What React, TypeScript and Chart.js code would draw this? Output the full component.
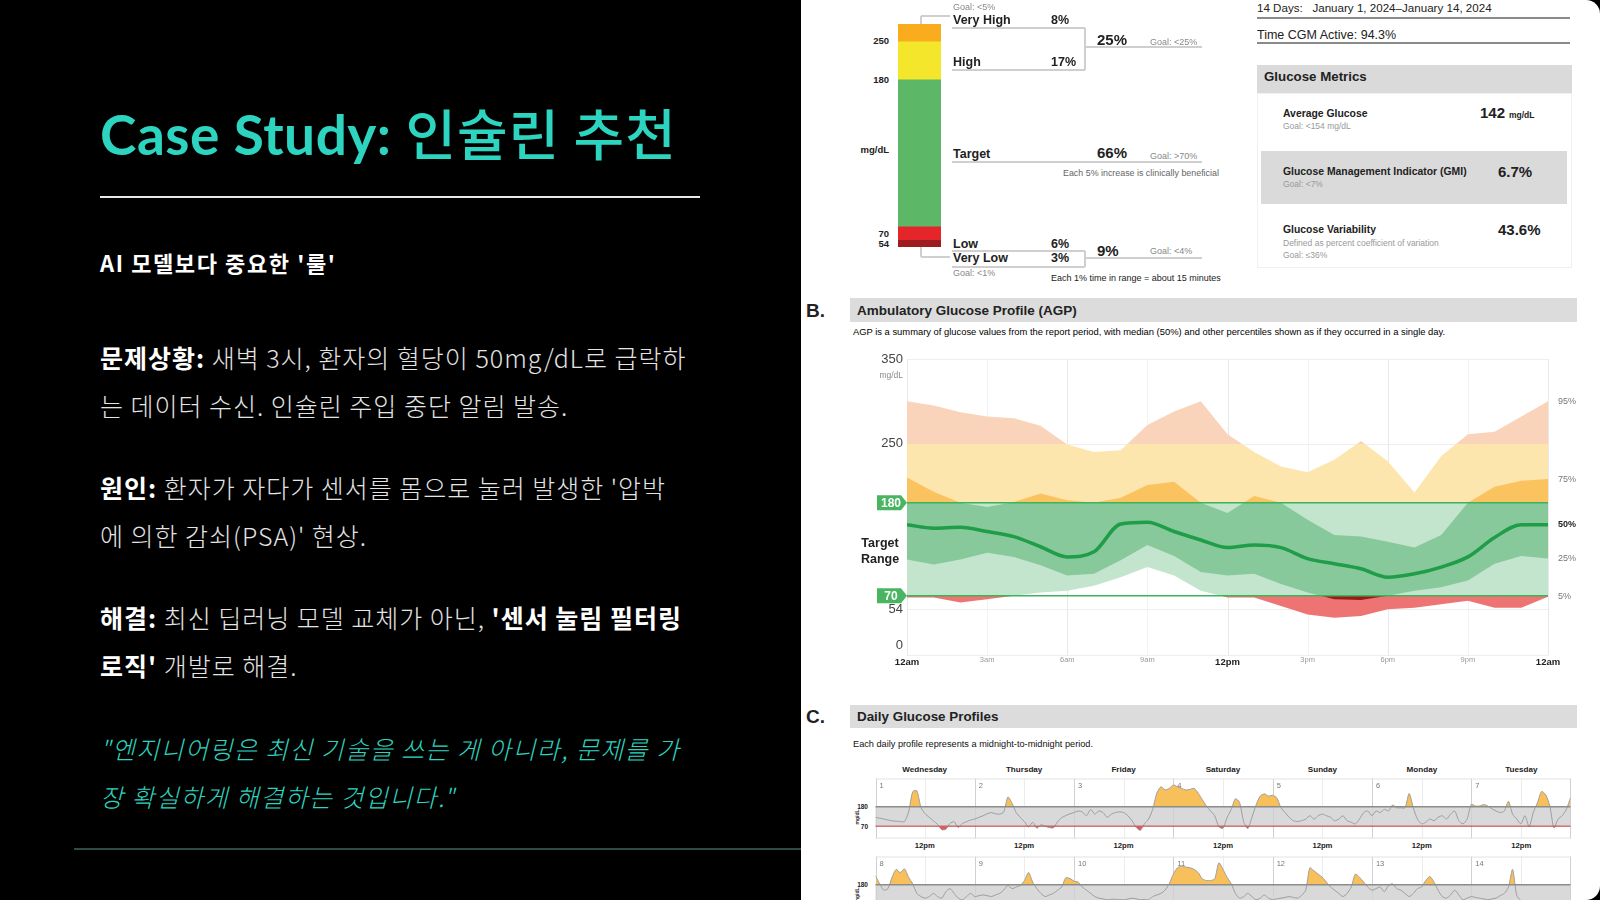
import React, { useEffect, useRef } from "react";
import { Chart, registerables } from "chart.js";
Chart.register(...registerables);

const RF = "'Liberation Sans', Arial, Helvetica, sans-serif";
const KF = "'Noto Sans CJK KR', 'Noto Sans', sans-serif";
const TF = "'Lato', 'Noto Sans CJK KR', sans-serif";

// ---------- Section A: time in ranges ----------
const tirLabels = ["Very Low", "Low", "Target", "High", "Very High"];
const tirValues = [3, 6, 66, 17, 8];
const tirColors = ["#9d1c20", "#e4252a", "#5cb866", "#f4e62b", "#f8ac1e"];

// ---------- Section B: AGP (hourly percentiles, mg/dL) ----------
const agpHours = [0, 1, 2, 3, 4, 5, 6, 7, 8, 9, 10, 11, 12, 13, 14, 15, 16, 17, 18, 19, 20, 21, 22, 23, 24];
const agpP5 = [68, 68, 62, 66, 70, 74, 76, 82, 92, 104, 94, 76, 68, 68, 58, 48, 44, 46, 54, 56, 60, 64, 56, 56, 69];
const agpP25 = [113, 107, 113, 121, 116, 106, 94, 96, 112, 130, 117, 98, 94, 96, 84, 74, 66, 65, 70, 76, 80, 88, 108, 117, 114];
const agpP50 = [154, 150, 151, 146, 140, 128, 116, 122, 155, 157, 146, 136, 127, 130, 127, 114, 108, 102, 92, 96, 104, 116, 139, 154, 154];
const agpP75 = [210, 193, 180, 175, 181, 191, 183, 180, 186, 201, 205, 180, 168, 188, 180, 160, 142, 140, 134, 127, 142, 180, 199, 206, 208];
const agpP95 = [300, 295, 287, 282, 280, 271, 249, 240, 242, 272, 288, 300, 261, 240, 223, 216, 231, 253, 229, 192, 235, 261, 264, 282, 300];
const agpXTickHours = [0, 3, 6, 9, 12, 15, 18, 21, 24];
const agpXTickLabels = ["12am", "3am", "6am", "9am", "12pm", "3pm", "6pm", "9pm", "12am"];
const agpYTicks = [350, 250, 54, 0];
const agpTargets = [180, 70];
const agpPctLabels = ["5%", "25%", "50%", "75%", "95%"];

// ---------- Section C: daily profiles (hourly mg/dL) ----------
const dayNames = ["Wednesday", "Thursday", "Friday", "Saturday", "Sunday", "Monday", "Tuesday"];
const day1 = [120, 115, 110, 105, 100, 98, 96, 96, 150, 265, 270, 175, 140, 120, 100, 80, 50, 52, 85, 95, 62, 85, 95, 105];
const day2 = [110, 120, 129, 140, 147, 140, 138, 150, 235, 200, 147, 120, 95, 66, 92, 58, 78, 70, 62, 60, 95, 118, 130, 140];
const day3 = [147, 156, 150, 129, 165, 138, 156, 147, 120, 138, 147, 151, 147, 129, 101, 64, 46, 83, 110, 165, 257, 293, 275, 284];
const day4 = [303, 293, 284, 275, 278, 284, 257, 220, 184, 156, 129, 66, 58, 120, 165, 225, 205, 95, 56, 120, 190, 240, 253, 240];
const day5 = [245, 230, 175, 147, 120, 101, 96, 101, 110, 129, 110, 129, 138, 129, 120, 101, 110, 129, 101, 92, 83, 110, 147, 156];
const day6 = [129, 156, 147, 165, 156, 190, 174, 174, 174, 255, 174, 110, 83, 92, 110, 101, 120, 129, 110, 138, 156, 101, 83, 110];
const day7 = [193, 184, 184, 193, 184, 169, 156, 147, 156, 211, 138, 110, 83, 129, 66, 147, 202, 266, 248, 184, 60, 110, 129, 165];
const day8 = [231, 185, 149, 158, 222, 267, 249, 270, 222, 185, 131, 113, 104, 113, 131, 113, 104, 140, 158, 131, 104, 95, 113, 131];
const day9 = [113, 118, 122, 118, 113, 122, 131, 150, 176, 158, 167, 176, 204, 249, 195, 158, 131, 113, 122, 131, 149, 167, 220, 215];
const day10 = [200, 195, 167, 149, 131, 113, 104, 100, 95, 97, 98, 96, 95, 99, 104, 100, 95, 97, 95, 113, 122, 131, 150, 185];
const day11 = [240, 276, 285, 280, 276, 267, 249, 213, 204, 204, 213, 304, 267, 222, 185, 131, 104, 113, 131, 113, 95, 104, 122, 104];
const day12 = [95, 100, 104, 108, 113, 108, 104, 120, 149, 276, 258, 240, 222, 195, 167, 149, 131, 113, 131, 167, 240, 222, 195, 167];
const day13 = [149, 158, 167, 140, 176, 185, 158, 149, 131, 113, 131, 158, 167, 204, 226, 195, 149, 113, 104, 122, 149, 122, 95, 104];
const day14 = [113, 108, 104, 100, 95, 100, 104, 118, 131, 167, 267, 120, 90, null, null, null, null, null, null, null, null, null, null, null];
const dailyRow1 = [day1, day2, day3, day4, day5, day6, day7];
const dailyRow2 = [day8, day9, day10, day11, day12, day13, day14];

// ---------- helpers ----------
const T = ({ x, y, s, w = 400, c = "#222", a = "l", f = RF, i = false, ls = 0, children }: any) => (
  <div
    style={{
      position: "absolute", left: x, top: y,
      transform: `translate(${a === "l" ? "0" : a === "r" ? "-100%" : "-50%"}, -50%)`,
      fontSize: s, fontWeight: w, color: c, fontFamily: f, fontStyle: i ? "italic" : "normal",
      whiteSpace: "nowrap", lineHeight: 1, letterSpacing: ls,
    }}
  >
    {children}
  </div>
);
const Box = ({ x, y, w, h, bg = "transparent", bd }: any) => (
  <div style={{ position: "absolute", left: x, top: y, width: w, height: h, background: bg, border: bd, boxSizing: "border-box" }} />
);
const HL = ({ x1, x2, y, c = "#cfcfcf", t = 1.5 }: any) => (
  <div style={{ position: "absolute", left: x1, top: y - t / 2, width: x2 - x1, height: t, background: c }} />
);
const VL = ({ x, y1, y2, c = "#cfcfcf", t = 1.5 }: any) => (
  <div style={{ position: "absolute", left: x - t / 2, top: y1, width: t, height: y2 - y1, background: c }} />
);

function ChartBox({ make, x, y, w, h }: any) {
  const ref = useRef<HTMLCanvasElement | null>(null);
  useEffect(() => {
    const chart = new Chart(ref.current as any, make());
    chart.update();
    return () => chart.destroy();
  }, []);
  return <canvas ref={ref} width={w} height={h} style={{ position: "absolute", left: x, top: y, width: w, height: h }} />;
}

const baseOpts = {
  responsive: false,
  animation: false,
  events: [],
  plugins: { legend: { display: false }, tooltip: { enabled: false } },
};

// ---------- TIR bar ----------
function tirConfig(): any {
  return {
    type: "bar",
    data: {
      labels: [""],
      datasets: tirLabels.map((l, i) => ({
        label: l, data: [tirValues[i]], backgroundColor: tirColors[i],
        borderWidth: 0, barPercentage: 1, categoryPercentage: 1,
      })),
    },
    options: {
      ...baseOpts,
      layout: { padding: 0 },
      scales: { x: { stacked: true, display: false }, y: { stacked: true, display: false, min: 0, max: 100 } },
    },
  };
}

// ---------- AGP ----------
const OUTER = [
  { lo: 250, hi: 350, c: "#f9d4ba" },
  { lo: 180, hi: 250, c: "#fde5ae" },
  { lo: 70, hi: 180, c: "#c3e5cd" },
  { lo: 0, hi: 70, c: "#ee7474" },
];
const INNER = [
  { lo: 250, hi: 350, c: "#f8b98c" },
  { lo: 180, hi: 250, c: "#fbc360" },
  { lo: 70, hi: 180, c: "#87c99b" },
  { lo: 0, hi: 70, c: "#9a1a1a" },
];
function zoneGradient(chart: any, zones: any[]) {
  const { ctx, chartArea, scales } = chart;
  if (!chartArea || !scales || !scales.y) return "rgba(0,0,0,0)";
  const top = chartArea.top, bottom = chartArea.bottom, H = bottom - top;
  const g = ctx.createLinearGradient(0, top, 0, bottom);
  const cl = (t: number) => Math.max(0, Math.min(1, t));
  zones.forEach((z) => {
    g.addColorStop(cl((scales.y.getPixelForValue(z.hi) - top) / H), z.c);
    g.addColorStop(cl((scales.y.getPixelForValue(z.lo) - top) / H), z.c);
  });
  return g;
}
const agpPlugin = {
  id: "agpDecor",
  beforeDatasetsDraw(chart: any) {
    const { ctx, chartArea: a, scales } = chart;
    const { x, y } = scales;
    ctx.save();
    ctx.lineWidth = 1;
    agpXTickHours.forEach((h) => {
      const px = Math.round(x.getPixelForValue(h)) + 0.5;
      ctx.strokeStyle = h % 6 === 0 ? "#e8e8e8" : "#f3f3f3";
      ctx.beginPath(); ctx.moveTo(px, a.top); ctx.lineTo(px, a.bottom); ctx.stroke();
    });
    agpYTicks.forEach((v) => {
      const py = Math.round(y.getPixelForValue(v)) + 0.5;
      ctx.strokeStyle = "#eeeeee";
      ctx.beginPath(); ctx.moveTo(a.left, py); ctx.lineTo(a.right, py); ctx.stroke();
    });
    ctx.restore();
  },
  afterDatasetsDraw(chart: any) {
    const { ctx, chartArea: a, scales } = chart;
    const { x, y } = scales;
    ctx.save();
    // target lines + badges
    agpTargets.forEach((v) => {
      const py = y.getPixelForValue(v);
      ctx.strokeStyle = "#3db35b";
      ctx.lineWidth = 1.6;
      ctx.beginPath(); ctx.moveTo(a.left, py); ctx.lineTo(a.right, py); ctx.stroke();
      ctx.fillStyle = "#49b560";
      ctx.beginPath();
      ctx.moveTo(a.left - 30, py - 7.5);
      ctx.lineTo(a.left - 6, py - 7.5);
      ctx.lineTo(a.left, py);
      ctx.lineTo(a.left - 6, py + 7.5);
      ctx.lineTo(a.left - 30, py + 7.5);
      ctx.closePath(); ctx.fill();
      ctx.fillStyle = "#ffffff";
      ctx.font = `bold 12px ${RF}`;
      ctx.textAlign = "center"; ctx.textBaseline = "middle";
      ctx.fillText(String(v), a.left - 16, py + 0.5);
    });
    // y tick labels (the zero label sits just above its gridline)
    ctx.fillStyle = "#444";
    ctx.font = `13px ${RF}`;
    ctx.textAlign = "right";
    agpYTicks.forEach((v) => {
      const py = y.getPixelForValue(v);
      if (v === 0) { ctx.textBaseline = "bottom"; ctx.fillText(String(v), a.left - 4, py - 3); }
      else { ctx.textBaseline = "middle"; ctx.fillText(String(v), a.left - 4, py); }
    });
    ctx.textBaseline = "middle";
    ctx.fillStyle = "#8a8a8a";
    ctx.font = `8.5px ${RF}`;
    ctx.fillText("mg/dL", a.left - 4, y.getPixelForValue(350) + 17);
    // Target Range
    const mid = y.getPixelForValue((agpTargets[0] + agpTargets[1]) / 2);
    ctx.fillStyle = "#222";
    ctx.font = `bold 12.5px ${RF}`;
    ctx.textAlign = "center";
    ctx.fillText("Target", a.left - 27, mid - 6);
    ctx.fillText("Range", a.left - 27, mid + 10);
    // x tick labels
    agpXTickHours.forEach((h, i) => {
      const bold = h % 12 === 0;
      ctx.fillStyle = bold ? "#222" : "#9a9a9a";
      ctx.font = bold ? `bold 9.5px ${RF}` : `7.5px ${RF}`;
      ctx.textAlign = "center"; ctx.textBaseline = "middle";
      ctx.fillText(agpXTickLabels[i], x.getPixelForValue(h), a.bottom + (bold ? 7 : 5));
    });
    // percentile labels at right
    const series = [agpP5, agpP25, agpP50, agpP75, agpP95];
    series.forEach((s, i) => {
      const bold = agpPctLabels[i] === "50%";
      ctx.fillStyle = bold ? "#222" : "#777";
      ctx.font = bold ? `bold 9px ${RF}` : `9px ${RF}`;
      ctx.textAlign = "left";
      ctx.fillText(agpPctLabels[i], a.right + 10, y.getPixelForValue(s[s.length - 1]));
    });
    ctx.restore();
  },
};
function agpConfig(): any {
  const mk = (arr: number[]) => arr.map((v, i) => ({ x: agpHours[i], y: v }));
  const clear = "rgba(0,0,0,0)";
  return {
    type: "line",
    data: {
      datasets: [
        { label: "5%", data: mk(agpP5), borderColor: clear, borderWidth: 1, pointRadius: 0, fill: false, order: 4 },
        { label: "95%", data: mk(agpP95), borderColor: clear, borderWidth: 1, pointRadius: 0, fill: "-1", order: 3,
          backgroundColor: (c: any) => zoneGradient(c.chart, OUTER) },
        { label: "25%", data: mk(agpP25), borderColor: clear, borderWidth: 1, pointRadius: 0, fill: false, order: 2 },
        { label: "75%", data: mk(agpP75), borderColor: clear, borderWidth: 1, pointRadius: 0, fill: "-1", order: 1,
          backgroundColor: (c: any) => zoneGradient(c.chart, INNER) },
        { label: "50%", data: mk(agpP50), borderColor: "#1f9d48", borderWidth: 3.5, pointRadius: 0, fill: false,
          cubicInterpolationMode: "monotone", order: 0 },
      ],
    },
    options: {
      ...baseOpts,
      layout: { padding: { left: 107, right: 52, top: 19, bottom: 25 } },
      scales: {
        x: { type: "linear", min: 0, max: 24, display: false },
        y: { min: 0, max: 350, display: false },
      },
    },
    plugins: [agpPlugin],
  };
}

// ---------- Daily profiles ----------
function dailyPlugin(firstDay: number) {
  return {
    id: "dailyDecor",
    beforeDatasetsDraw(chart: any) {
      const { ctx, chartArea: a, scales } = chart;
      const { x, y } = scales;
      ctx.save();
      ctx.lineWidth = 1;
      for (let d = 0; d < 7; d++) {
        const px = Math.round(x.getPixelForValue(d * 24 + 12)) + 0.5;
        ctx.strokeStyle = "#ececec";
        ctx.beginPath(); ctx.moveTo(px, a.top); ctx.lineTo(px, a.bottom); ctx.stroke();
      }
      const y180 = y.getPixelForValue(180), y70 = y.getPixelForValue(70);
      ctx.fillStyle = "#d9d9d9";
      ctx.fillRect(a.left, y180, a.right - a.left, y70 - y180);
      for (let d = 0; d <= 7; d++) {
        let px = Math.round(x.getPixelForValue(d * 24)) + 0.5;
        if (d === 7) px -= 1;
        ctx.strokeStyle = "#d0d0d0";
        ctx.beginPath(); ctx.moveTo(px, a.top); ctx.lineTo(px, a.bottom); ctx.stroke();
      }
      ctx.strokeStyle = "#e2e2e2";
      ctx.beginPath(); ctx.moveTo(a.left, a.top + 0.5); ctx.lineTo(a.right, a.top + 0.5); ctx.stroke();
      ctx.beginPath(); ctx.moveTo(a.left, a.bottom - 0.5); ctx.lineTo(a.right, a.bottom - 0.5); ctx.stroke();
      ctx.restore();
    },
    afterDatasetsDraw(chart: any) {
      const { ctx, chartArea: a, scales } = chart;
      const { x, y } = scales;
      ctx.save();
      ctx.strokeStyle = "#8c8c8c"; ctx.lineWidth = 1.5;
      const y180 = y.getPixelForValue(180);
      ctx.beginPath(); ctx.moveTo(a.left, y180); ctx.lineTo(a.right, y180); ctx.stroke();
      ctx.strokeStyle = "#b8434a"; ctx.lineWidth = 1;
      const y70 = y.getPixelForValue(70);
      ctx.beginPath(); ctx.moveTo(a.left, y70); ctx.lineTo(a.right, y70); ctx.stroke();
      ctx.fillStyle = "#777";
      ctx.font = `7.5px ${RF}`;
      ctx.textAlign = "left"; ctx.textBaseline = "middle";
      for (let d = 0; d < 7; d++) ctx.fillText(String(firstDay + d), x.getPixelForValue(d * 24) + 4, a.top + 7);
      ctx.restore();
    },
  };
}
function dailyConfig(days: (number | null)[][], nextVal: number | null | undefined, firstDay: number): any {
  const pts: any[] = [];
  days.forEach((d, di) => d.forEach((v, h) => pts.push({ x: di * 24 + h, y: v })));
  if (nextVal !== undefined) pts.push({ x: 168, y: nextVal });
  const clear = "rgba(0,0,0,0)";
  return {
    type: "line",
    data: {
      datasets: [
        { data: pts, borderColor: "#9e9e9e", borderWidth: 1, pointRadius: 0, tension: 0.25,
          fill: { target: { value: 180 }, above: "#f8c05a", below: clear } },
        { data: pts, borderColor: clear, borderWidth: 1, pointRadius: 0, tension: 0.25,
          fill: { target: { value: 70 }, above: clear, below: "#e8535c" } },
      ],
    },
    options: {
      ...baseOpts,
      layout: { padding: 0 },
      scales: {
        x: { type: "linear", min: 0, max: 168, display: false },
        y: { min: 0, max: 340, display: false },
      },
    },
    plugins: [dailyPlugin(firstDay)],
  };
}

// ---------- App ----------
export default function App() {
  const colLeft = 875, colW = 696 / 7;
  const teal = "#2dd4bf";
  const body = "#e4e4e4";
  const para: any = { position: "absolute", left: 100, fontFamily: KF, fontSize: 25, lineHeight: "48px", color: body, whiteSpace: "nowrap", fontWeight: 300, letterSpacing: 1.0 };
  const strong: any = { color: "#fff", fontWeight: 700 };
  return (
    <div style={{ position: "fixed", left: 0, top: 0, width: 1600, height: 900, overflow: "hidden", background: "#000" }}>
      {/* ---------- left panel ---------- */}
      <div style={{ position: "absolute", left: 100, top: 134, transform: "translateY(-50%)", fontSize: 55, lineHeight: 1, color: teal, whiteSpace: "nowrap" }}>
        <span style={{ fontFamily: TF, fontWeight: 700, letterSpacing: 0.5 }}>Case Study: </span>
        <span style={{ fontFamily: KF, fontWeight: 500, letterSpacing: 1.0 }}>인슐린 추천</span>
      </div>
      <HL x1={100} x2={700} y={197} c="#e8e8e8" t={1.5} />
      <T x={100} y={262} s={22} w={700} c="#ffffff" f={KF} ls={1.6}>AI 모델보다 중요한 '룰'</T>
      <div style={{ ...para, top: 333 }}>
        <b style={strong}>문제상황:</b> 새벽 3시, 환자의 혈당이 50mg/dL로 급락하<br />
        는 데이터 수신. 인슐린 주입 중단 알림 발송.
      </div>
      <div style={{ ...para, top: 463 }}>
        <b style={strong}>원인:</b> 환자가 자다가 센서를 몸으로 눌러 발생한 '압박<br />
        에 의한 감쇠(PSA)' 현상.
      </div>
      <div style={{ ...para, top: 593 }}>
        <b style={strong}>해결:</b> 최신 딥러닝 모델 교체가 아닌, <b style={strong}>'센서 눌림 필터링</b><br />
        <b style={strong}>로직'</b> 개발로 해결.
      </div>
      <div style={{ ...para, top: 724, color: teal, fontStyle: "italic", letterSpacing: 1.4 }}>
        "엔지니어링은 최신 기술을 쓰는 게 아니라, 문제를 가<br />
        장 확실하게 해결하는 것입니다."
      </div>
      <HL x1={74} x2={801} y={849} c="#2b4d47" t={2} />

      {/* ---------- right panel ---------- */}
      <div style={{ position: "absolute", left: 801, top: 0, width: 799, height: 900, background: "#fff", borderRadius: "0 14px 14px 0" }} />

      {/* Section A */}
      <ChartBox make={tirConfig} x={898} y={24} w={43} h={223} />
      <T x={889} y={41} s={9.5} w={700} c="#222" a="r">250</T>
      <T x={889} y={80} s={9.5} w={700} c="#222" a="r">180</T>
      <T x={889} y={150} s={9.5} w={700} c="#222" a="r">mg/dL</T>
      <T x={889} y={234} s={9.5} w={700} c="#222" a="r">70</T>
      <T x={889} y={244} s={9.5} w={700} c="#222" a="r">54</T>
      <VL x={921} y1={16} y2={24} /> <HL x1={921} x2={950} y={16} />
      <HL x1={952} x2={1085} y={28} /> <VL x={1085} y1={28} y2={70} /> <HL x1={952} x2={1085} y={70} />
      <HL x1={1085} x2={1202} y={47} />
      <HL x1={952} x2={1202} y={162} />
      <VL x={921} y1={247} y2={257} /> <HL x1={921} x2={950} y={257} />
      <HL x1={952} x2={1085} y={251} /> <VL x={1085} y1={251} y2={267} /> <HL x1={952} x2={1085} y={267} />
      <HL x1={1085} x2={1202} y={258} />
      <T x={953} y={7} s={9} c="#888">Goal: &lt;5%</T>
      <T x={953} y={20} s={12.5} w={700} c="#222">Very High</T>
      <T x={1051} y={20} s={12.5} w={700} c="#222">8%</T>
      <T x={953} y={62} s={12.5} w={700} c="#222">High</T>
      <T x={1051} y={62} s={12.5} w={700} c="#222">17%</T>
      <T x={1097} y={39} s={15} w={700} c="#222">25%</T>
      <T x={1150} y={42} s={9} c="#888">Goal: &lt;25%</T>
      <T x={953} y={154} s={12.5} w={700} c="#222">Target</T>
      <T x={1097} y={152} s={15} w={700} c="#222">66%</T>
      <T x={1150} y={156} s={9} c="#888">Goal: &gt;70%</T>
      <T x={1063} y={173} s={8.9} c="#666">Each 5% increase is clinically beneficial</T>
      <T x={953} y={244} s={12.5} w={700} c="#222">Low</T>
      <T x={1051} y={244} s={12.5} w={700} c="#222">6%</T>
      <T x={953} y={258} s={12.5} w={700} c="#222">Very Low</T>
      <T x={1051} y={258} s={12.5} w={700} c="#222">3%</T>
      <T x={1097} y={250} s={15} w={700} c="#222">9%</T>
      <T x={1150} y={251} s={9} c="#888">Goal: &lt;4%</T>
      <T x={953} y={273} s={9} c="#888">Goal: &lt;1%</T>
      <T x={1051} y={278} s={9} c="#222">Each 1% time in range = about 15 minutes</T>

      {/* Metrics */}
      <T x={1257} y={8} s={11.6} c="#222">14 Days:&nbsp;&nbsp; January 1, 2024–January 14, 2024</T>
      <HL x1={1257} x2={1570} y={18} c="#8a8a8a" t={2} />
      <T x={1257} y={35} s={12.5} c="#222">Time CGM Active: 94.3%</T>
      <HL x1={1257} x2={1570} y={43} c="#8a8a8a" t={2} />
      <Box x={1257} y={65} w={315} h={28} bg="#dadada" />
      <T x={1264} y={77} s={13.3} w={700} c="#222">Glucose Metrics</T>
      <Box x={1257} y={93} w={315} h={175} bd="1px solid #f0f0f0" />
      <T x={1283} y={114} s={10.4} w={700} c="#222">Average Glucose</T>
      <T x={1283} y={126} s={8.5} c="#999">Goal: &lt;154 mg/dL</T>
      <T x={1480} y={112} s={15} w={700} c="#222">142</T>
      <T x={1509} y={115} s={8.5} w={700} c="#222">mg/dL</T>
      <Box x={1261} y={151} w={306} h={53} bg="#dadada" />
      <T x={1283} y={172} s={10.4} w={700} c="#222">Glucose Management Indicator (GMI)</T>
      <T x={1283} y={184} s={8.5} c="#999">Goal: &lt;7%</T>
      <T x={1498} y={171} s={15} w={700} c="#222">6.7%</T>
      <T x={1283} y={230} s={10.4} w={700} c="#222">Glucose Variability</T>
      <T x={1283} y={243} s={8.5} c="#999">Defined as percent coefficient of variation</T>
      <T x={1283} y={255} s={8.5} c="#999">Goal: ≤36%</T>
      <T x={1498} y={229} s={15} w={700} c="#222">43.6%</T>

      {/* Section B */}
      <T x={806} y={310} s={19} w={700} c="#222">B.</T>
      <Box x={850} y={298} w={727} h={24} bg="#dcdcdc" />
      <T x={857} y={311} s={13.5} w={700} c="#222">Ambulatory Glucose Profile (AGP)</T>
      <T x={853} y={332} s={9.4} c="#000">AGP is a summary of glucose values from the report period, with median (50%) and other percentiles shown as if they occurred in a single day.</T>
      <ChartBox make={agpConfig} x={800} y={340} w={800} h={340} />

      {/* Section C */}
      <T x={806} y={716} s={19} w={700} c="#222">C.</T>
      <Box x={850} y={705} w={727} h={23} bg="#dcdcdc" />
      <T x={857} y={717} s={13.4} w={700} c="#222">Daily Glucose Profiles</T>
      <T x={853} y={745} s={9.2} c="#111">Each daily profile represents a midnight-to-midnight period.</T>
      {dayNames.map((d, i) => (
        <T key={d} x={colLeft + (i + 0.5) * colW} y={770} s={8.1} w={700} c="#222" a="c">{d}</T>
      ))}
      <ChartBox make={() => dailyConfig(dailyRow1, day8[0], 1)} x={875} y={778} w={696} h={61} />
      {dayNames.map((d, i) => (
        <T key={"n" + d} x={colLeft + (i + 0.5) * colW} y={846} s={7.7} w={700} c="#222" a="c">12pm</T>
      ))}
      <ChartBox make={() => dailyConfig(dailyRow2, undefined, 8)} x={875} y={856} w={696} h={61} />
      <T x={868} y={807} s={6.5} w={700} c="#222" a="r">180</T>
      <T x={868} y={827} s={6.5} w={700} c="#222" a="r">70</T>
      <div style={{ position: "absolute", left: 857, top: 817, transform: "translate(-50%,-50%) rotate(-90deg)", fontSize: 5, fontFamily: RF, fontWeight: 700, color: "#333", whiteSpace: "nowrap" }}>mg/dL</div>
      <T x={868} y={885} s={6.5} w={700} c="#222" a="r">180</T>
      <div style={{ position: "absolute", left: 857, top: 895, transform: "translate(-50%,-50%) rotate(-90deg)", fontSize: 5, fontFamily: RF, fontWeight: 700, color: "#333", whiteSpace: "nowrap" }}>mg/dL</div>
    </div>
  );
}
